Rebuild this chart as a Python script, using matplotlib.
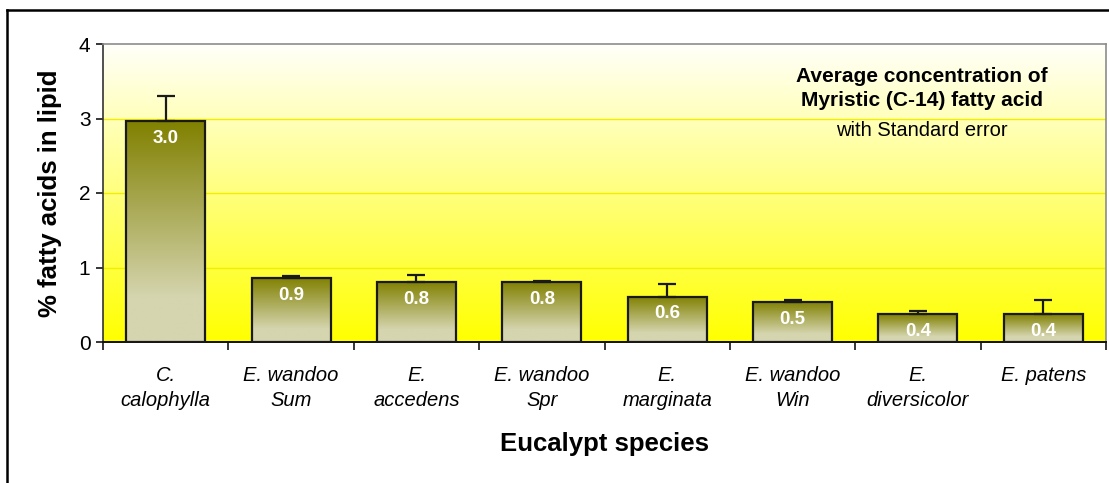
import numpy as np
import matplotlib
matplotlib.use("Agg")
import matplotlib.pyplot as plt
from matplotlib.lines import Line2D

plt.rcParams['font.family'] = ['Liberation Sans', 'DejaVu Sans']

# data
species = ["C.\ncalophylla", "E. wandoo\nSum", "E.\naccedens", "E. wandoo\nSpr",
           "E.\nmarginata", "E. wandoo\nWin", "E.\ndiversicolor", "E. patens"]
means = [2.97, 0.86, 0.81, 0.81, 0.61, 0.54, 0.37, 0.37]
std_err = [0.33, 0.03, 0.09, 0.01, 0.17, 0.02, 0.04, 0.19]

W, H = 1109, 483
fig = plt.figure(figsize=(W / 100, H / 100), dpi=100)
ax = fig.add_axes([103 / W, (H - 342) / H, (1106 - 103) / W, (342 - 44) / H])

x = np.arange(len(species))

# background gradient: pale at top, yellow at bottom
bg = np.linspace(0, 1, 256)[:, None]
bg_rgb = np.ones((256, 1, 3))
bg_rgb[..., 2] = (250 / 255) * (1 - bg)
ax.imshow(bg_rgb, extent=(-0.5, len(species) - 0.5, 0, 4), aspect='auto', zorder=0)

for yv in [1, 2, 3]:
    ax.axhline(yv, color='#f2ee00', lw=1.0, zorder=1)

bars = ax.bar(x, means, width=0.63, facecolor='none', edgecolor='#1a1a1a', lw=1.6, zorder=4)

# bar gradient: olive at top fading to beige
top_c = np.array([128, 128, 0]) / 255
bot_c = np.array([213, 213, 175]) / 255
t = np.clip(np.linspace(0, 1, 200) / 0.8, 0, 1)
grad = (top_c[None, :] * (1 - t[:, None]) + bot_c[None, :] * t[:, None])[:, None, :]
for b in bars:
    x0, w, h = b.get_x(), b.get_width(), b.get_height()
    ax.imshow(grad, extent=(x0, x0 + w, 0, h), aspect='auto', zorder=3)
ax.set_xlim(-0.5, len(species) - 0.5)
ax.set_ylim(0, 4)

ax.errorbar(x, means, yerr=[np.zeros(len(means)), std_err], fmt='none',
            ecolor='#1a1a1a', elinewidth=1.6, capsize=6.5, capthick=1.6, zorder=5)

for xi, m in zip(x, means):
    ax.annotate(f"{m:.1f}", (xi, m), xytext=(0, -12.5), textcoords='offset points',
                ha='center', va='center', color='white', fontsize=13.5,
                fontweight='bold', zorder=6)

for side in ['top', 'right']:
    ax.spines[side].set_color('#8c8c8c')
    ax.spines[side].set_linewidth(1.2)
ax.spines['left'].set_color('#333333')
ax.spines['bottom'].set_color('#111111')
ax.spines['left'].set_linewidth(1.2)
ax.spines['bottom'].set_linewidth(1.4)

ax.set_yticks([0, 1, 2, 3, 4])
ax.tick_params(axis='y', direction='out', length=5, width=1.1, labelsize=15, pad=4)
ax.set_xticks(x)
ax.set_xticklabels(species, fontstyle='italic', fontsize=14.5, linespacing=1.4)
ax.tick_params(axis='x', which='major', length=0, pad=17)
ax.set_xticks(np.arange(-0.5, len(species), 1), minor=True)
ax.tick_params(axis='x', which='minor', direction='out', length=6, width=1.1)

ax.set_ylabel("% fatty acids in lipid", fontsize=18.5, fontweight='bold', labelpad=12)
fig.text(604 / W, 1 - 444 / H, "Eucalypt species", fontsize=18.5, fontweight='bold',
         ha='center', va='center')

fig.text(922 / W, 1 - 76 / H, "Average concentration of", fontsize=15,
         fontweight='bold', ha='center', va='center')
fig.text(922 / W, 1 - 101 / H, "Myristic (C-14) fatty acid", fontsize=15,
         fontweight='bold', ha='center', va='center')
fig.text(922 / W, 1 - 130 / H, "with Standard error", fontsize=14.5,
         ha='center', va='center')

# outer chart border (only the left and top edges fall inside the image)
fig.add_artist(Line2D([7 / W, 7 / W], [0, 1 - 10 / H], color='black', lw=1.8))
fig.add_artist(Line2D([7 / W, 1], [1 - 10 / H, 1 - 10 / H], color='black', lw=1.8))

fig.savefig("out.png", dpi=100)
